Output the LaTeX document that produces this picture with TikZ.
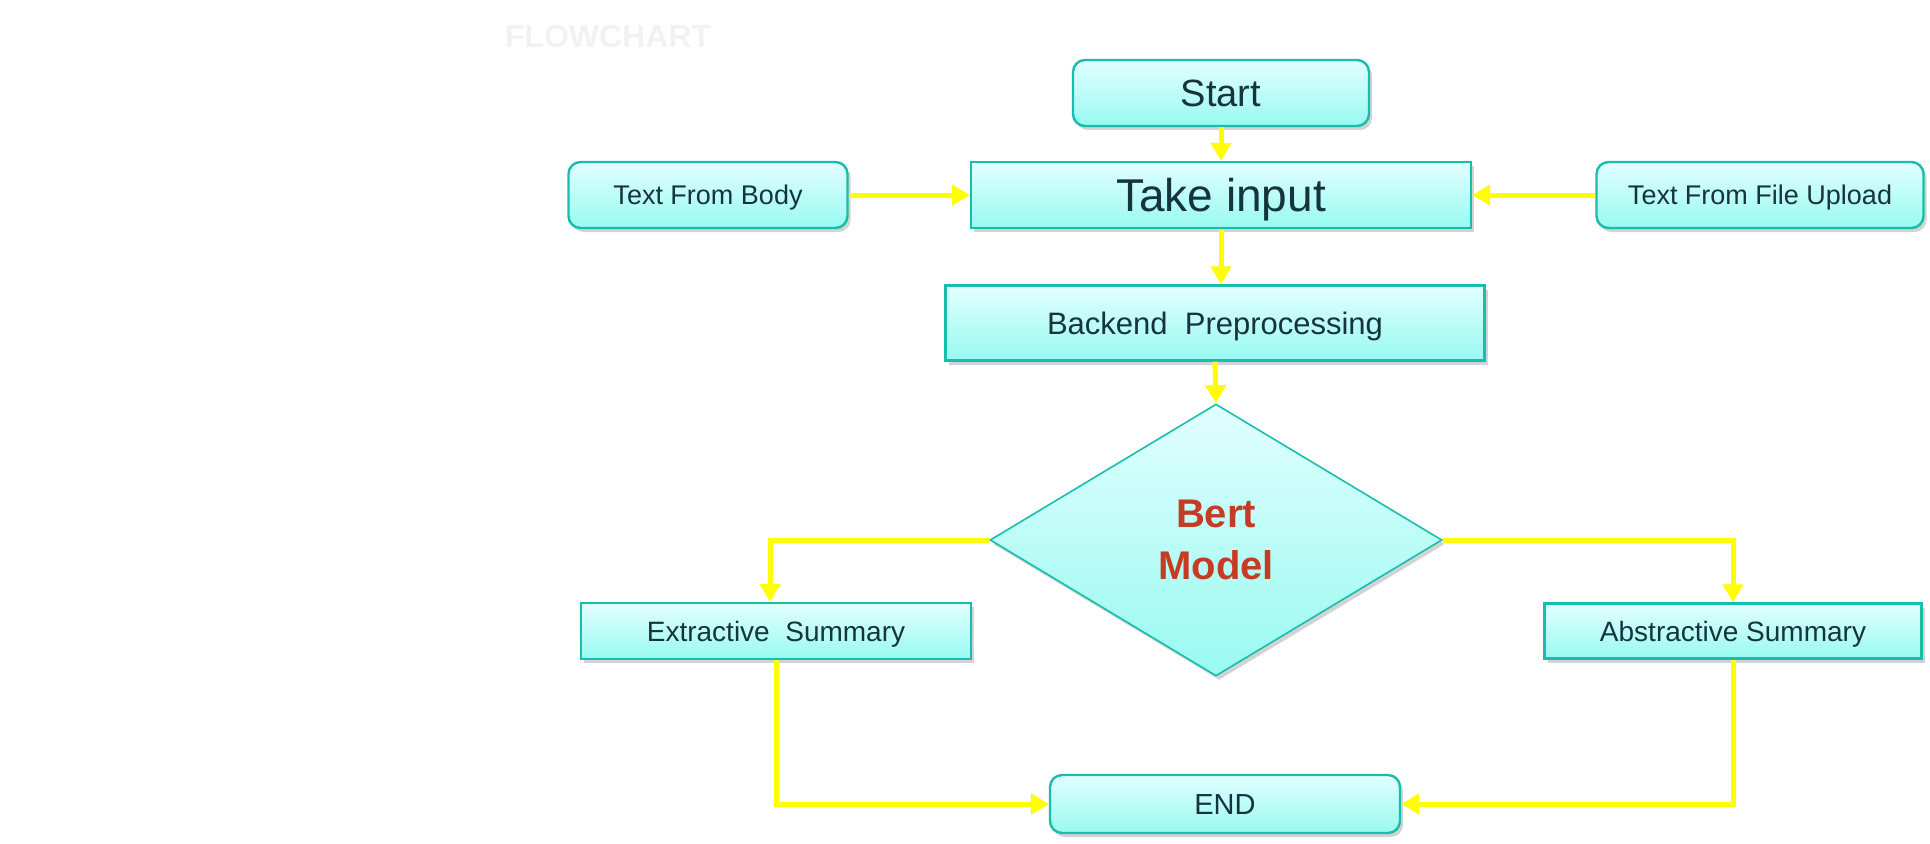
\documentclass[tikz,border=0pt]{standalone}
\usepackage{fontspec}
\setmainfont{Liberation Sans}
\usetikzlibrary{shapes.geometric, arrows.meta, positioning, calc, shadows}
\definecolor{bordercolor}{RGB}{24,190,172}
\definecolor{fillcolortop}{RGB}{226,255,255}
\definecolor{fillcolorbottom}{RGB}{152,250,240}
\definecolor{flowcolor}{RGB}{255,255,0}
\definecolor{labelcolor}{RGB}{22,52,62}
\definecolor{decisioncolor}{RGB}{196,60,36}
\definecolor{titlecolor}{RGB}{242,242,242}

\tikzset{
    box/.style={draw=bordercolor, line width=1.2pt, top color=fillcolortop, bottom color=fillcolorbottom,
        text=labelcolor, align=center, inner sep=0pt, text depth=0pt,
        drop shadow={shadow xshift=1.5pt, shadow yshift=-2pt, opacity=0.35}},
    roundbox/.style={box, rounded corners=6pt},
    flow/.style={draw=flowcolor, line width=2.5pt, -{Triangle[length=9pt,width=10pt]}}
}

\begin{document}
\begin{tikzpicture}[x=0.5pt, y=-0.5pt]
    \useasboundingbox (0,0) rectangle (1930,843);

    % title
    \node[text=titlecolor, font=\fontsize{16}{16}\selectfont\bfseries] (title) at (608,36) {FLOWCHART};

    % input stage
    \node[roundbox, minimum width=148pt, minimum height=33pt, font=\fontsize{19}{19}\selectfont] (start) at (1221,93) {Start};
    \node[box, minimum width=250pt, minimum height=33pt, font=\fontsize{23}{23}\selectfont] (take) at (1221,195) {Take input};
    \node[roundbox, minimum width=139.5pt, minimum height=33pt, font=\fontsize{13.5}{13.5}\selectfont] (body) at (708,195) {Text From Body};
    \node[roundbox, minimum width=163.5pt, minimum height=33pt, font=\fontsize{13.5}{13.5}\selectfont] (upload) at (1760,195) {Text From File Upload};
    \node[box, minimum width=269.5pt, minimum height=37.5pt, font=\fontsize{15.5}{15.5}\selectfont] (backend) at (1215,323) {Backend\ \ Preprocessing};

    % model
    \node[box, diamond, line width=0.8pt, minimum width=226pt, minimum height=136pt, text=decisioncolor,
        font=\fontsize{20}{26}\selectfont\bfseries] (bert) at (1216,540) {Bert\\Model};

    % outputs
    \node[box, minimum width=195pt, minimum height=28pt, font=\fontsize{14}{14}\selectfont] (extract) at (776,631) {Extractive\ \ Summary};
    \node[box, minimum width=188.5pt, minimum height=27.5pt, font=\fontsize{14}{14}\selectfont] (abstract) at (1733,631) {Abstractive Summary};
    \node[roundbox, minimum width=175pt, minimum height=29pt, font=\fontsize{14.5}{14.5}\selectfont] (end) at (1225,804) {END};

    % connectors
    \draw[flow] (start) -- (take);
    \draw[flow] (body) -- (take);
    \draw[flow] (upload) -- (take);
    \draw[flow] (take.south) -- (take.south |- backend.north);
    \draw[flow] (backend.south) -- (bert.north);
    \draw[flow] (bert.west) -| ([xshift=-3pt]extract.north);
    \draw[flow] (bert.east) -| (abstract.north);
    \draw[flow] (extract.south) |- (end.west);
    \draw[flow] (abstract.south) |- (end.east);
\end{tikzpicture}
\end{document}
